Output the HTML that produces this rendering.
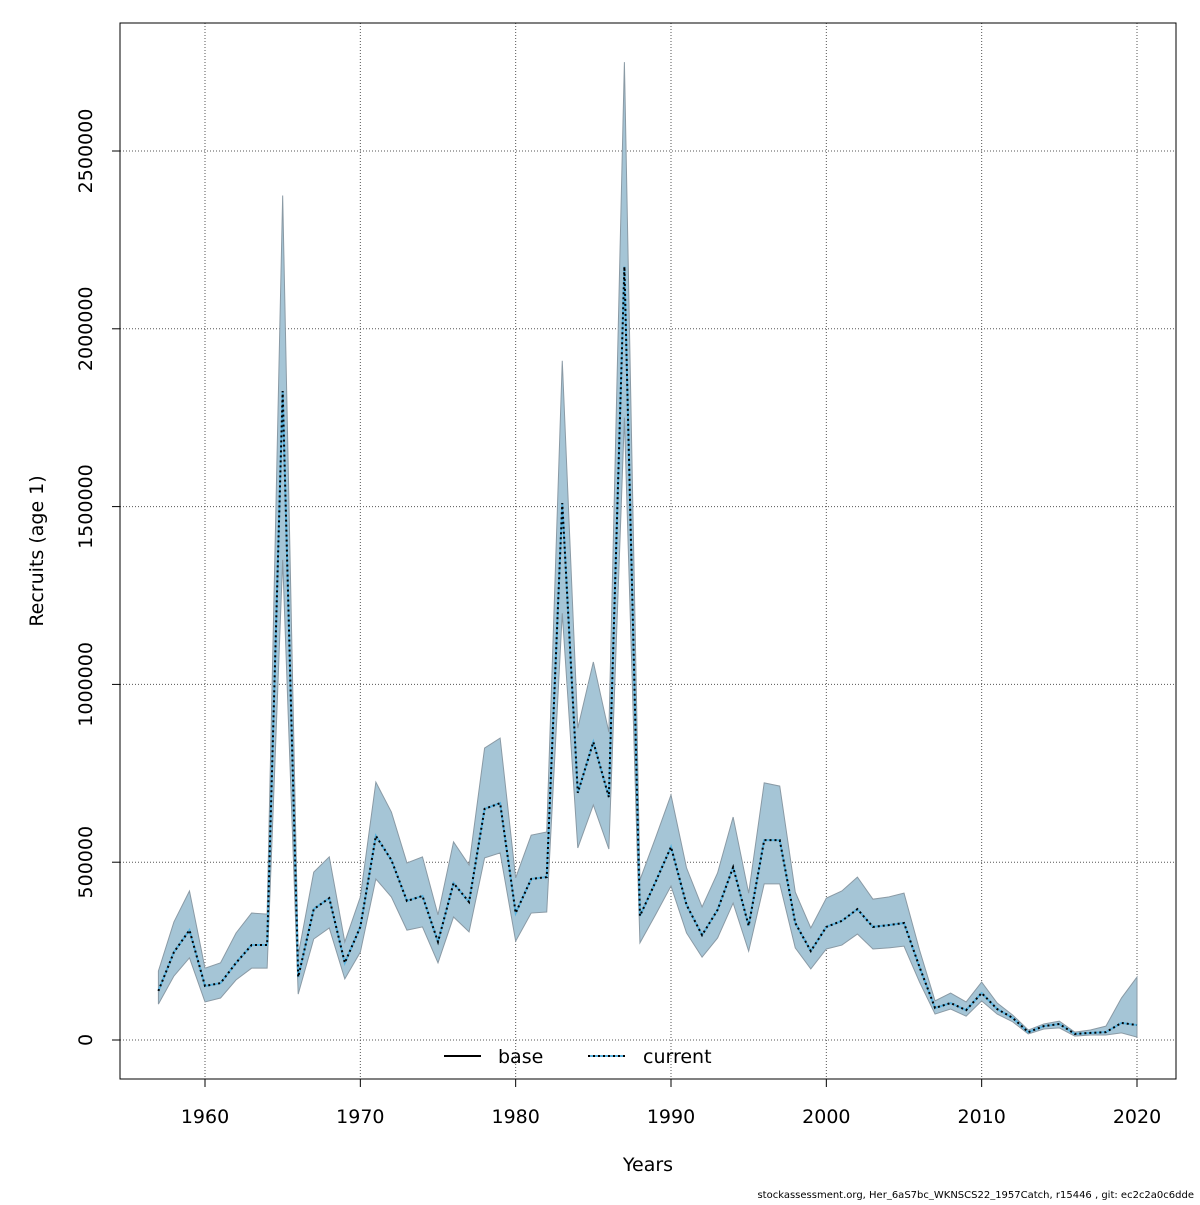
<!DOCTYPE html>
<html><head><meta charset="utf-8"><style>
body{margin:0;background:#fff}
svg text{font-family:"DejaVu Sans","Liberation Sans",sans-serif;fill:#000}
</style></head><body>
<svg id="chart" width="1200" height="1200" xmlns="http://www.w3.org/2000/svg">
<rect x="0" y="0" width="1200" height="1200" fill="#fff"/>
<g id="grid"></g>
<g id="band"></g>
<g id="lines"></g>
<rect x="120" y="23" width="1056" height="1056" fill="none" stroke="#000" stroke-width="1"/>
<g id="axes"></g>
<text x="648" y="1171" font-size="19" text-anchor="middle">Years</text>
<text x="43" y="551" font-size="19" text-anchor="middle" transform="rotate(-90 43 551)">Recruits (age 1)</text>
<g>
<line x1="444" y1="1056" x2="481" y2="1056" stroke="#000" stroke-width="2"/>
<text x="498" y="1063" font-size="19">base</text>
<line x1="588" y1="1056" x2="625" y2="1056" stroke="#5ab4e0" stroke-width="2"/>
<line x1="588" y1="1056" x2="625" y2="1056" stroke="#000" stroke-width="2" stroke-dasharray="2 3"/>
<text x="643" y="1063" font-size="19">current</text>
</g>
<text x="1194" y="1198" font-size="10" text-anchor="end">stockassessment.org, Her_6aS7bc_WKNSCS22_1957Catch, r15446 , git: ec2c2a0c6dde</text>
</svg>
<script>
const years=[];for(let y=1957;y<=2020;y++)years.push(y);
const recruits=[138,247,309,152,160,217,267,267,1825,177,368,399,217,318,574,506,391,405,276,441,388,650,666,357,453,458,1510,695,838,683,2175,349,444,543,380,295,366,486,321,562,562,329,250,318,335,368,318,323,329,205,90,104,84,132,87,62,22,39,45,17,20,22,48,42];
const upper=[194,332,419,202,217,301,357,354,2375,239,472,515,276,402,725,641,498,515,352,557,492,821,849,456,576,585,1910,877,1063,866,2750,450,568,689,484,374,470,627,413,723,714,416,315,399,419,458,396,402,413,253,110,132,107,163,104,70,28,45,53,22,28,39,118,177];
const lower=[101,180,231,107,118,169,202,202,1350,129,284,315,172,247,453,402,309,318,217,346,304,512,526,278,357,360,1200,540,661,537,1750,273,352,433,301,233,287,385,250,439,439,259,200,256,267,298,256,259,264,163,73,87,67,110,73,51,17,31,34,11,14,14,20,8];
const xTicks=[1960,1970,1980,1990,2000,2010,2020];
const yTicks=[0,500000,1000000,1500000,2000000,2500000];
const yTickLabels=["0","500000","1000000","1500000","2000000","2500000"];
const NS="http://www.w3.org/2000/svg";
function xs(yr){return 205+(yr-1960)*(932/60);}
function ys(v){return 1040-v/500000*177.8;}
function mk(tag,attrs,parent){const e=document.createElementNS(NS,tag);for(const k in attrs)e.setAttribute(k,attrs[k]);parent.appendChild(e);return e;}
const grid=document.getElementById('grid'),band=document.getElementById('band'),lines=document.getElementById('lines'),axes=document.getElementById('axes');
xTicks.forEach(t=>{
 const g=mk('line',{x1:xs(t),x2:xs(t),y1:23,y2:1079,stroke:'#555','stroke-width':1,'stroke-dasharray':'1 2'},grid);
 
 
 const tk=mk('line',{x1:xs(t),x2:xs(t),y1:1079,y2:1087,stroke:'#000'},axes);
 
 
 const tx=mk('text',{x:xs(t),y:1123,'font-size':19,'text-anchor':'middle'},axes);tx.textContent=t;
 
 
});
yTicks.forEach((t,i)=>{
 const y=ys(t);
 const g=mk('line',{x1:120,x2:1176,y1:y,y2:y,stroke:'#555','stroke-width':1,'stroke-dasharray':'1 2'},grid);
 
 
 const tk=mk('line',{x1:112,x2:120,y1:y,y2:y,stroke:'#000'},axes);
 
 
 const tx=mk('text',{x:92,y:y,'font-size':19,'text-anchor':'middle',transform:`rotate(-90 92 ${y})`},axes);tx.textContent=yTickLabels[i];
 
 
});
let pts=years.map((yr,i)=>xs(yr)+','+ys(upper[i]*1000));
for(let i=years.length-1;i>=0;i--)pts.push(xs(years[i])+','+ys(lower[i]*1000));
const poly=mk('polygon',{points:pts.join(' '),fill:'#a5c5d6',stroke:'#8a9aa5','stroke-width':1},band);


const lp=years.map((yr,i)=>xs(yr)+','+ys(recruits[i]*1000)).join(' ');
const l1=mk('polyline',{points:lp,fill:'none',stroke:'#5ab4e0','stroke-width':2},lines);


const l2=mk('polyline',{points:lp,fill:'none',stroke:'#000','stroke-width':2,'stroke-dasharray':'2 3'},lines);


</script>
</body></html>
